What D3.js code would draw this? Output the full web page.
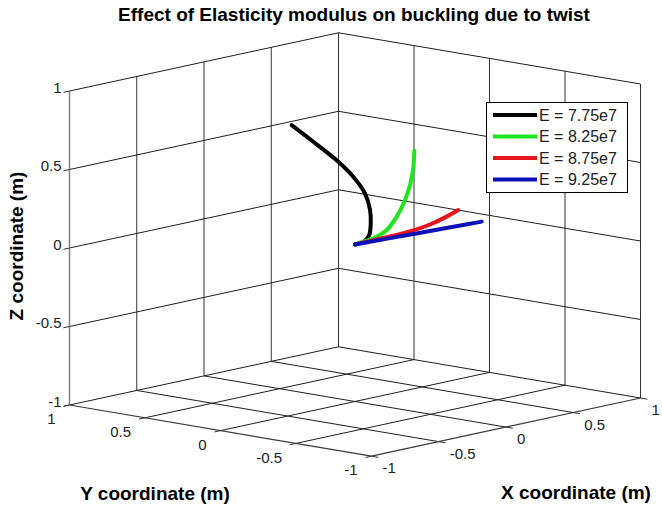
<!DOCTYPE html>
<html>
<head>
<meta charset="utf-8">
<script src="https://cdn.jsdelivr.net/npm/d3@7"></script>
<style>
  html, body { margin: 0; padding: 0; background: #fff; }
  svg { display: block; font-family: "Liberation Sans", Arial, sans-serif; }
</style>
</head>
<body>
<svg id="chart" width="662" height="506"></svg>
<script>
// ---------------- data ----------------
const titleText = "Effect of Elasticity modulus on buckling due to twist";
const xLabel = "X coordinate (m)";
const yLabel = "Y coordinate (m)";
const zLabel = "Z coordinate (m)";
const tickValues = [-1, -0.5, 0, 0.5, 1];
const tickLabels = ["-1", "-0.5", "0", "0.5", "1"];
const seriesNames = ["E = 7.75e7", "E = 8.25e7", "E = 8.75e7", "E = 9.25e7"];
const seriesColors = ["#000000", "#1ee61e", "#e8141e", "#0c10b8"];

// curve points (x, y, z) in metres
const curveE775 = [
  [0, 0, 0], [0.074, 0, 0.010], [0.106, 0, 0.041], [0.117, 0, 0.113],
  [0.112, 0, 0.199], [0.074, 0, 0.312], [-0.013, 0, 0.434], [-0.124, 0, 0.550],
  [-0.310, 0, 0.712], [-0.471, 0, 0.848]
];
const curveE825 = [
  [0, 0, 0], [0.087, 0, 0.008], [0.161, 0, 0.020], [0.236, 0, 0.049],
  [0.310, 0, 0.120], [0.372, 0, 0.215], [0.409, 0, 0.303], [0.433, 0, 0.405],
  [0.441, 0, 0.516]
];
const curveE875 = [
  [0, 0, 0], [0.136, 0, 0.003], [0.285, 0, 0.004], [0.433, 0, 0.010],
  [0.558, 0, 0.024], [0.682, 0, 0.051], [0.768, 0, 0.077]
];
const curveE925 = [
  [0, 0, 0], [0.240, 0, -0.007], [0.476, 0, -0.015], [0.710, 0, -0.022], [0.942, 0, -0.029]
];
const curves = [curveE775, curveE825, curveE875, curveE925];

// ---------------- projection (orthographic 3D view) ----------------
const cx = 355, cy = 244.5;
const xh = d3.scaleLinear().domain([-1, 1]).range([-134.5, 134.5]);
const xv = d3.scaleLinear().domain([-1, 1]).range([29.1, -29.1]);
const yh = d3.scaleLinear().domain([-1, 1]).range([151, -151]);
const yv = d3.scaleLinear().domain([-1, 1]).range([25.6, -25.6]);
const zv = d3.scaleLinear().domain([-1, 1]).range([157, -157]);
function P(x, y, z) {
  return [cx + xh(x) + yh(y), cy + xv(x) + yv(y) + zv(z)];
}

const svg = d3.select("#chart");
svg.append("rect").attr("width", 662).attr("height", 506).attr("fill", "#fff");

const gGrid = svg.append("g").attr("fill", "none");
function seg(a, b, color, w) {
  const p = P(...a), q = P(...b);
  gGrid.append("line")
    .attr("x1", p[0]).attr("y1", p[1]).attr("x2", q[0]).attr("y2", q[1])
    .attr("stroke", color).attr("stroke-width", w);
}
const gridDark = "#1e1e1e", gridVert = "#333333", axisCol = "#808080";

// wall Y = 1
tickValues.forEach(v => {
  if (v > -1) seg([v, 1, -1], [v, 1, 1], gridVert, 1);
  if (v > -1) seg([-1, 1, v], [1, 1, v], gridDark, 1);
});
// wall X = 1
tickValues.forEach(v => {
  seg([1, v, -1], [1, v, 1], gridVert, 1);
  if (v > -1) seg([1, -1, v], [1, 1, v], gridDark, 1);
});
// floor Z = -1
tickValues.forEach(v => {
  if (v > -1) seg([v, -1, -1], [v, 1, -1], gridDark, 1);
  if (v > -1) seg([-1, v, -1], [1, v, -1], gridDark, 1);
});
// axis lines
seg([-1, 1, -1], [-1, 1, 1], axisCol, 1.5);
seg([-1, -1, -1], [-1, 1, -1], "#3a3a3a", 1.2);
seg([-1, -1, -1], [1, -1, -1], "#3a3a3a", 1.2);

// ticks
const tl = 0.045;
tickValues.forEach(v => {
  seg([-1, 1, v], [-1 - tl, 1, v], "#333", 1);
  seg([-1, v, -1], [-1 - tl, v, -1], "#333", 1);
  seg([v, -1, -1], [v, -1 - tl, -1], "#333", 1);
});

// tick labels
const gLab = svg.append("g").attr("font-size", 15).attr("fill", "#222");
tickValues.forEach((v, i) => {
  const pz = P(-1, 1, v);
  gLab.append("text").attr("x", pz[0] - 8).attr("y", pz[1] - 3.5).attr("dy", "0.35em")
    .attr("text-anchor", "end").text(tickLabels[i]);
  const py = P(-1, v, -1);
  gLab.append("text").attr("x", py[0] - 14).attr("y", py[1] + 14).attr("dy", "0.35em")
    .attr("text-anchor", "end").text(tickLabels[i]);
  const px = P(v, -1, -1);
  gLab.append("text").attr("x", px[0] + 11).attr("y", px[1] + 12).attr("dy", "0.35em")
    .attr("text-anchor", "start").text(tickLabels[i]);
});

// curves
const line = d3.line().x(d => P(...d)[0]).y(d => P(...d)[1]).curve(d3.curveCatmullRom);
curves.forEach((c, i) => {
  svg.append("path").datum(c).attr("d", line).attr("fill", "none")
    .attr("stroke", seriesColors[i]).attr("stroke-width", 4)
    .attr("stroke-linecap", "round").attr("stroke-linejoin", "round");
});

// title and axis labels
svg.append("text").attr("x", 354).attr("y", 21).attr("text-anchor", "middle")
  .attr("font-size", 19).attr("font-weight", "bold").attr("fill", "#000").text(titleText);
svg.append("text").attr("x", 155).attr("y", 500).attr("text-anchor", "middle")
  .attr("font-size", 19).attr("font-weight", "bold").attr("fill", "#000").text(yLabel);
svg.append("text").attr("x", 576).attr("y", 499).attr("text-anchor", "middle")
  .attr("font-size", 19).attr("font-weight", "bold").attr("fill", "#000").text(xLabel);
svg.append("text").attr("transform", "translate(23,246) rotate(-90)").attr("text-anchor", "middle")
  .attr("font-size", 19).attr("font-weight", "bold").attr("fill", "#000").text(zLabel);

// legend
const lg = svg.append("g");
lg.append("rect").attr("x", 486.5).attr("y", 102.5).attr("width", 141).attr("height", 90)
  .attr("fill", "#fff").attr("stroke", "#000").attr("stroke-width", 1);
const rowY = d3.scaleLinear().domain([0, 3]).range([115, 179.5]);
seriesNames.forEach((name, i) => {
  const y = rowY(i);
  lg.append("line").attr("x1", 493).attr("x2", 537).attr("y1", y).attr("y2", y)
    .attr("stroke", seriesColors[i]).attr("stroke-width", 4);
  lg.append("text").attr("x", 539).attr("y", y).attr("dy", "0.36em")
    .attr("font-size", 16).attr("fill", "#222").text(name);
});
</script>
</body>
</html>
